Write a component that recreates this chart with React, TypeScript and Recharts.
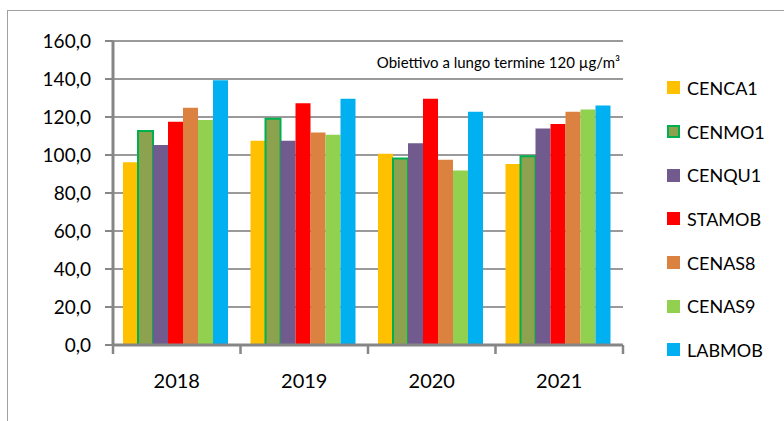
import { Bar, BarChart, CartesianGrid, XAxis, YAxis } from "recharts";

const years = ["2018", "2019", "2020", "2021"];

const cenca1 = [96.2, 107.5, 100.6, 95.2];
const cenmo1 = [112.6, 119.1, 98.2, 99.4];
const cenqu1 = [105.2, 107.5, 106.2, 114.0];
const stamob = [117.5, 127.2, 129.6, 116.3];
const cenas8 = [124.9, 111.9, 97.5, 122.8];
const cenas9 = [118.4, 110.7, 91.8, 124.0];
const labmob = [139.3, 129.6, 122.8, 126.1];

const yTicks = [0, 20, 40, 60, 80, 100, 120, 140, 160];

const series = [
  { key: "CENCA1", values: cenca1, fill: "#ffc000", stroke: "none" },
  { key: "CENMO1", values: cenmo1, fill: "#8ca24e", stroke: "#00b050" },
  { key: "CENQU1", values: cenqu1, fill: "#705a8e", stroke: "none" },
  { key: "STAMOB", values: stamob, fill: "#ff0000", stroke: "none" },
  { key: "CENAS8", values: cenas8, fill: "#dc8240", stroke: "none" },
  { key: "CENAS9", values: cenas9, fill: "#92d050", stroke: "none" },
  { key: "LABMOB", values: labmob, fill: "#00b0f0", stroke: "none" },
];

const data = years.map((year, i) => {
  const row: Record<string, string | number> = { year };
  series.forEach((s) => {
    row[s.key] = s.values[i];
  });
  return row;
});

const FONT = "Lato, 'Noto Sans', sans-serif";
const AXIS = "#868686";
const GRID = "#9a9a9a";

function formatTick(value: number) {
  return value.toFixed(1).replace(".", ",");
}

// category label centred in the band, tick marks on the band edges
function YearTick(props: any) {
  const { x, y, payload, index } = props;
  const half = payload.offset ?? 0;
  return (
    <g>
      <line x1={x - half} x2={x - half} y1={y - 8} y2={y + 1} stroke={AXIS} strokeWidth={2.5} />
      {index === years.length - 1 && (
        <line x1={x + half} x2={x + half} y1={y - 8} y2={y + 1} stroke={AXIS} strokeWidth={2.5} />
      )}
      <text x={x} y={y + 35} textAnchor="middle" fill="#000" fontSize={20} fontFamily={FONT}>
        {payload.value}
      </text>
    </g>
  );
}

function SeriesLegend() {
  return (
    <div style={{ position: "absolute", left: 667, top: 66, fontFamily: FONT }}>
      {series.map((s) => (
        <div
          key={s.key}
          style={{ display: "flex", alignItems: "center", height: 43.7, fontSize: 18, color: "#000" }}
        >
          <span
            style={{
              width: 13,
              height: 13,
              boxSizing: "border-box",
              background: s.fill,
              border: s.stroke === "none" ? "none" : `2px solid ${s.stroke}`,
              marginRight: 7,
            }}
          />
          {s.key}
        </div>
      ))}
    </div>
  );
}

export default function App() {
  return (
    <div style={{ position: "absolute", left: 0, top: 0, width: 784, height: 421, background: "#fff", overflow: "hidden" }}>
      <div
        style={{
          position: "absolute",
          left: 7,
          top: 10,
          width: 800,
          height: 430,
          borderTop: "1.5px solid #a0a0a0",
          borderLeft: "1.5px solid #a0a0a0",
        }}
      />
      <BarChart
        width={784}
        height={421}
        data={data}
        margin={{ top: 41, right: 161, left: 0, bottom: 46 }}
        barCategoryGap={10}
        barGap={0}
        style={{ position: "absolute", left: 0, top: 0 }}
      >
        <CartesianGrid vertical={false} stroke={GRID} strokeWidth={2} />
        <XAxis
          dataKey="year"
          height={30}
          tickLine={false}
          axisLine={{ stroke: AXIS, strokeWidth: 3 }}
          tick={<YearTick />}
          interval={0}
        />
        <YAxis
          width={113}
          domain={[0, 160]}
          ticks={yTicks}
          interval={0}
          tickFormatter={formatTick}
          axisLine={{ stroke: AXIS, strokeWidth: 3 }}
          tickLine={{ stroke: AXIS, strokeWidth: 2 }}
          tickSize={8}
          tickMargin={14}
          tick={{ fill: "#000", fontSize: 19, fontFamily: FONT }}
        />
        {series.map((s) => (
          <Bar
            key={s.key}
            dataKey={s.key}
            fill={s.fill}
            stroke={s.stroke}
            strokeWidth={s.stroke === "none" ? 0 : 2}
            isAnimationActive={false}
          />
        ))}
      </BarChart>
      <SeriesLegend />
      <div
        style={{
          position: "absolute",
          right: 164,
          top: 53,
          fontFamily: FONT,
          fontSize: 15,
          color: "#000",
          whiteSpace: "nowrap",
        }}
      >
        Obiettivo a lungo termine 120 µg/m³
      </div>
    </div>
  );
}
